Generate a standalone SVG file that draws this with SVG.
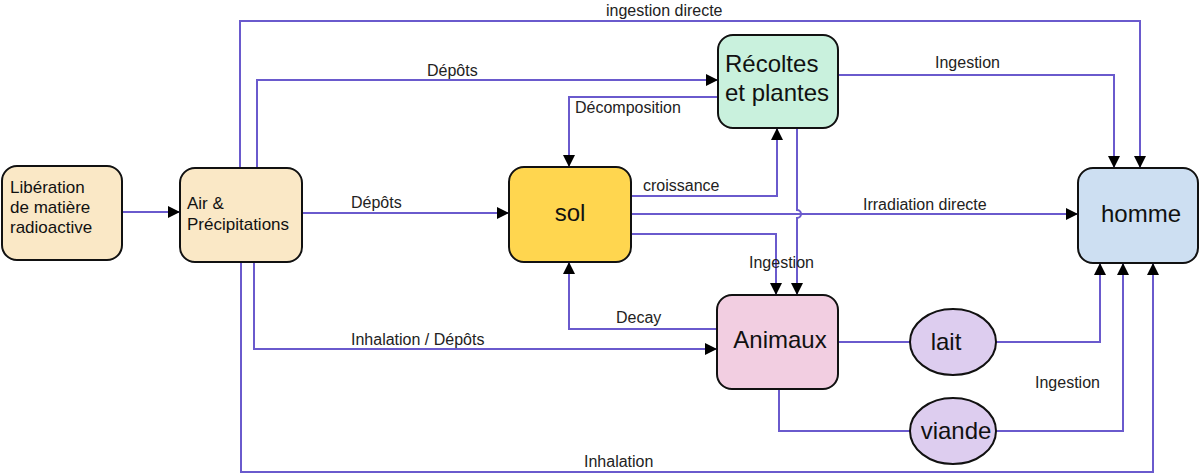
<svg xmlns="http://www.w3.org/2000/svg" width="1200" height="474" viewBox="0 0 1200 474">
<defs>
<marker id="arr" markerUnits="userSpaceOnUse" markerWidth="13" markerHeight="13" refX="12" refY="6" orient="auto">
<path d="M0,0 L12,6 L0,12 z" fill="#000"/>
</marker>
</defs>
<style>
.node{stroke:#111;stroke-width:2}
.beige{fill:#FAE8C6}
.sol{fill:#FFD64F}
.rec{fill:#C9F1DD}
.hom{fill:#CDDFF2}
.ani{fill:#F2CEE1}
.ell{fill:#DDCDEF}
.big{font-family:"Liberation Sans",Arial,sans-serif;font-size:24px;fill:#111}
.mid{font-family:"Liberation Sans",Arial,sans-serif;font-size:17px;fill:#111}
.lbl{font-family:"Liberation Sans",Arial,sans-serif;font-size:16px;fill:#222}
.c{fill:none;stroke:#6A5ACD;stroke-width:2}
.a{marker-end:url(#arr)}
</style>
<g id="connectors">
<path class="c a" d="M122,212 H180"/>
<path class="c a" d="M302,213 H509"/>
<path class="c a" d="M240,168 V21 H1140 V168"/>
<path class="c a" d="M257,168 V80 H718"/>
<path class="c a" d="M718,97 H569 V167"/>
<path class="c a" d="M631,196 H777 V128"/>
<path class="c a" d="M631,214 H1078"/>
<path class="c a" d="M631,234 H776 V295"/>
<path class="c a" d="M797,128 V210 a4,4 0 0 1 0,8 V295"/>
<path class="c a" d="M838,75 H1114 V168"/>
<path class="c a" d="M717,329 H569 V262"/>
<path class="c a" d="M254,262 V349 H717"/>
<path class="c a" d="M241,262 V472 H1153 V263"/>
<path class="c" d="M838,342 H910"/>
<path class="c a" d="M996,342 H1100 V263"/>
<path class="c" d="M779,389 V431 H910"/>
<path class="c a" d="M996,431 H1123 V263"/>
<text class="lbl" x="606" y="16">ingestion directe</text>
<text class="lbl" x="427" y="76">Dépôts</text>
<text class="lbl" x="351" y="208">Dépôts</text>
<text class="lbl" x="575" y="113">Décomposition</text>
<text class="lbl" x="643" y="191">croissance</text>
<text class="lbl" x="935" y="68">Ingestion</text>
<text class="lbl" x="863" y="210">Irradiation directe</text>
<text class="lbl" x="749" y="268">Ingestion</text>
<text class="lbl" x="616" y="323">Decay</text>
<text class="lbl" x="351" y="345">Inhalation / Dépôts</text>
<text class="lbl" x="584" y="467">Inhalation</text>
<text class="lbl" x="1035" y="388">Ingestion</text>
</g>
<g id="liberation">
<rect class="node beige" x="2" y="166" width="120" height="94" rx="15"/>
<text class="mid" x="10" y="193">Libération</text>
<text class="mid" x="10" y="213">de matière</text>
<text class="mid" x="10" y="233">radioactive</text>
</g>
<g id="air">
<rect class="node beige" x="180" y="168" width="122" height="94" rx="15"/>
<text class="mid" x="187" y="209">Air &amp;</text>
<text class="mid" x="187" y="230">Précipitations</text>
</g>
<g id="sol">
<rect class="node sol" x="509" y="167" width="122" height="95" rx="15"/>
<text class="big" x="570" y="221" text-anchor="middle">sol</text>
</g>
<g id="recoltes">
<rect class="node rec" x="718" y="35" width="120" height="93" rx="15"/>
<text class="big" x="725" y="72">Récoltes</text>
<text class="big" x="725" y="101">et plantes</text>
</g>
<g id="homme">
<rect class="node hom" x="1078" y="168" width="120" height="95" rx="15"/>
<text class="big" x="1141" y="222" text-anchor="middle">homme</text>
</g>
<g id="animaux">
<rect class="node ani" x="717" y="295" width="121" height="94" rx="15"/>
<text class="big" x="780" y="348" text-anchor="middle">Animaux</text>
</g>
<g id="lait">
<ellipse class="node ell" cx="953" cy="342" rx="43" ry="33"/>
<text class="big" x="946" y="350" text-anchor="middle">lait</text>
</g>
<g id="viande">
<ellipse class="node ell" cx="953" cy="431" rx="43" ry="33"/>
<text class="big" x="956" y="439" text-anchor="middle">viande</text>
</g>
</svg>
